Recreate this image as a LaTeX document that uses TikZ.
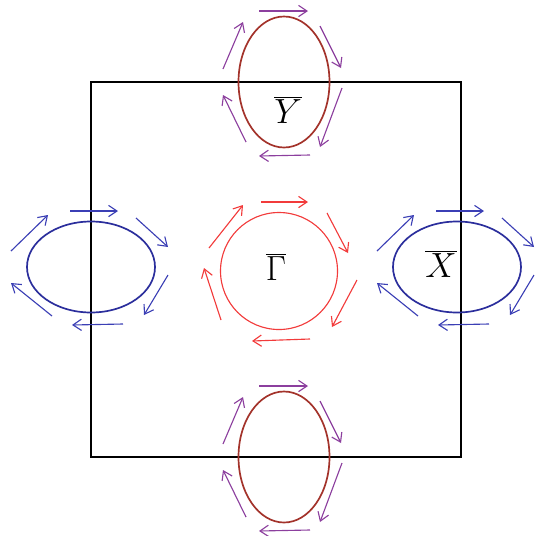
\documentclass[tikz,border=0pt]{standalone}
\usetikzlibrary{arrows.meta}
\definecolor{loopblue}{HTML}{2B2E9C}
\definecolor{arrblue}{HTML}{3B3FB5}
\definecolor{loopbrown}{HTML}{A3332B}
\definecolor{arrpurple}{HTML}{8C3F9E}
\definecolor{loopred}{HTML}{F23B3B}

\begin{document}
\begin{tikzpicture}[x=0.025cm,y=-0.025cm,
    spin/.style={-{Straight Barb[length=6pt,width=8pt]},line width=0.8pt},
    kpoint/.style={font=\Huge}]
    \useasboundingbox (0,0) rectangle (540,535);
    % zone
    \draw[line width=0.8pt] (91,82) rectangle (461,457);
    \coordinate (G) at (279,271);
    \coordinate (Xl) at (91,267);
    \coordinate (Xr) at (457,267);
    \coordinate (Yt) at (284,82);
    \coordinate (Yb) at (284,457);
    % pockets
    \draw[loopred,line width=0.8pt] (G) circle [radius=58.5];
    \foreach \c in {Xl,Xr}
      \draw[loopblue,line width=1.2pt] (\c) ellipse [x radius=64, y radius=45.5];
    \foreach \c in {Yt,Yb}
      \draw[loopbrown,line width=1.2pt] (\c) ellipse [x radius=45.5, y radius=65.5];
    % spin textures
    \foreach \p/\q in {{(-18,-69)}/{(29,-69)}, {(48,-58)}/{(69,-18)},
        {(78,9)}/{(53,56)}, {(31,68)}/{(-27,70)},
        {(-58,49)}/{(-75,-3)}, {(-70,-23)}/{(-36,-66)}}
      \draw[spin,loopred] ([shift={\p}]G) -- ([shift={\q}]G);
    \foreach \c in {Xl,Xr}
      \foreach \p/\q in {{(-21,-56)}/{(27,-56)}, {(45,-49)}/{(77,-20)},
          {(77,8)}/{(53,48)}, {(32,57)}/{(-19,58)},
          {(-39,49)}/{(-80,16)}, {(-80,-16)}/{(-43,-52)}}
        \draw[spin,arrblue] ([shift={\p}]\c) -- ([shift={\q}]\c);
    \foreach \c in {Yt,Yb}
      \foreach \p/\q in {{(-25,-71)}/{(24,-71)}, {(36,-56)}/{(57,-14)},
          {(58,6)}/{(36,65)}, {(26,73)}/{(-25,74)},
          {(-38,60)}/{(-61,13)}, {(-61,-13)}/{(-41,-60)}}
        \draw[spin,arrpurple] ([shift={\p}]\c) -- ([shift={\q}]\c);
    % labels
    \node[kpoint] (gam) at (276,267) {$\overline{\Gamma}$};
    \node[kpoint] (xbar) at (441,264) {$\overline{X}$};
    \node[kpoint] (ybar) at (288,110) {$\overline{Y}$};
  \end{tikzpicture}
\end{document}
